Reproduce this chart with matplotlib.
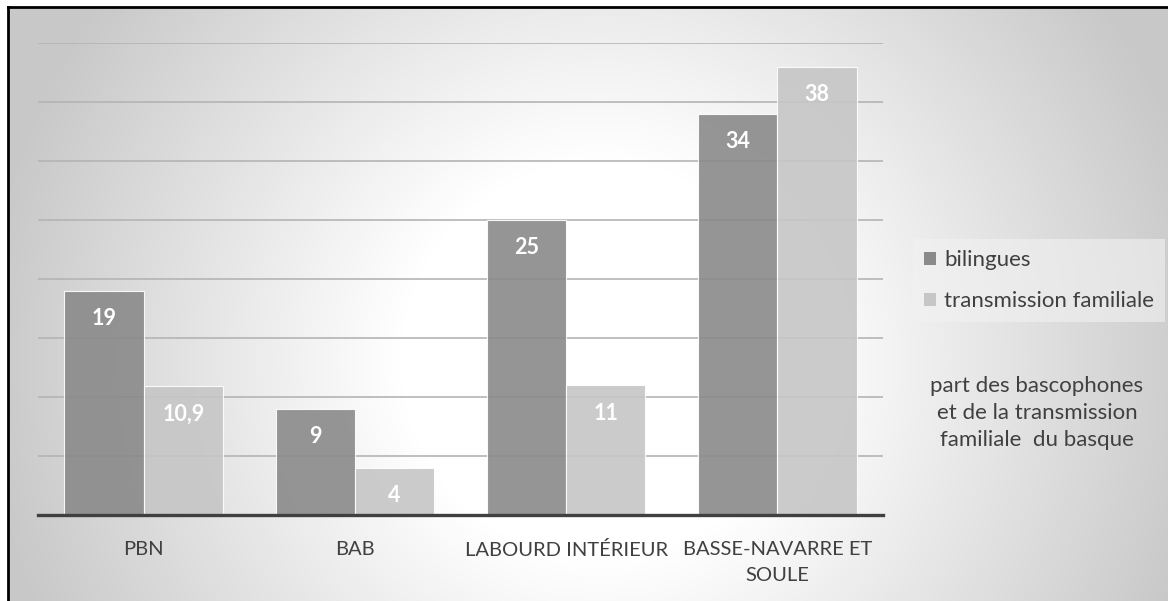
import numpy as np
import matplotlib
matplotlib.use("Agg")
import matplotlib.pyplot as plt
from matplotlib.patches import Patch

plt.rcParams['font.family'] = ['Lato', 'DejaVu Sans']

categories = ["PBN", "BAB", "LABOURD INTÉRIEUR", "BASSE-NAVARRE ET\nSOULE"]
bilingues = [19, 9, 25, 34]
transmission = [10.9, 4, 11, 38]
labels_bil = ["19", "9", "25", "34"]
labels_tra = ["10,9", "4", "11", "38"]
series_names = ["bilingues", "transmission familiale"]
note = "part des bascophones\net de la transmission\nfamiliale  du basque"

W, H = 1168, 601
fig = plt.figure(figsize=(W / 100, H / 100), dpi=100)

# radial grey background inside the black frame
bg = fig.add_axes([8 / W, 0, 1 - 8 / W, 1 - 7 / H])
yy, xx = np.mgrid[7:H, 8:W]
r = np.hypot((xx - 600) * 1.0, (yy - 360) * 1.0)
t = np.clip((r - 200) / 420, 0, 1)
g = (255 - 55 * t) / 255
bg.imshow(np.dstack([g, g, g]), aspect='auto', extent=(0, 1, 0, 1))
bg.set_xlim(0, 1)
bg.set_ylim(0, 1)
bg.set_xticks([])
bg.set_yticks([])
for s in ['right', 'bottom']:
    bg.spines[s].set_visible(False)
for s in ['left', 'top']:
    bg.spines[s].set_linewidth(2)
    bg.spines[s].set_color('black')

ax = fig.add_axes([38 / W, 1 - 515 / H, (883 - 38) / W, (515 - 43) / H])
ax.patch.set_alpha(0)
x = np.arange(len(categories))
w = 0.375
dark = '#8a8a8a'
light = '#c6c6c6'
b1 = ax.bar(x - w / 2, bilingues, w, color=dark, alpha=0.9, edgecolor='white', linewidth=0.8, zorder=3)
b2 = ax.bar(x + w / 2, transmission, w, color=light, alpha=0.9, edgecolor='white', linewidth=0.8, zorder=3)

for bars, labs in [(b1, labels_bil), (b2, labels_tra)]:
    for b, lab in zip(bars, labs):
        ax.annotate(lab, (b.get_x() + b.get_width() / 2, b.get_height()),
                    xytext=(0, -28), textcoords='offset pixels',
                    ha='center', va='center', color='white',
                    fontsize=15.5, fontweight='bold', zorder=5)

ax.set_xlim(-0.5, 3.5)
ax.set_ylim(0, 40)
ax.set_yticks(np.arange(0, 41, 5))
ax.yaxis.grid(True, color='#b4b4b4', linewidth=1.2, zorder=0)
ax.set_axisbelow(True)
ax.tick_params(axis='y', length=0, labelleft=False)
ax.tick_params(axis='x', length=0, pad=19, labelsize=14.5, labelcolor='#404040')
ax.set_xticks(x)
ax.set_xticklabels(categories, linespacing=1.65)
for s in ['left', 'right', 'top']:
    ax.spines[s].set_visible(False)
ax.spines['bottom'].set_color('#404040')
ax.spines['bottom'].set_linewidth(2.4)
ax.spines['bottom'].set_zorder(6)

handles = [Patch(facecolor=dark, edgecolor='none'), Patch(facecolor=light, edgecolor='none')]
leg = fig.legend(handles, series_names, loc='upper left',
                 bbox_to_anchor=(913 / W, 1 - 239 / H), frameon=True,
                 fontsize=16, handlelength=0.55, handleheight=0.55,
                 handletextpad=0.35, labelspacing=0.95, borderpad=0.5,
                 borderaxespad=0, fancybox=False)
leg.get_frame().set_facecolor('#f2f2f2')
leg.get_frame().set_alpha(0.6)
leg.get_frame().set_edgecolor('none')
for txt in leg.get_texts():
    txt.set_color('#404040')

fig.text(1037 / W, 1 - 413 / H, note, ha='center', va='center',
         fontsize=16, color='#404040', linespacing=1.42)

fig.savefig("out.png", dpi=100)
